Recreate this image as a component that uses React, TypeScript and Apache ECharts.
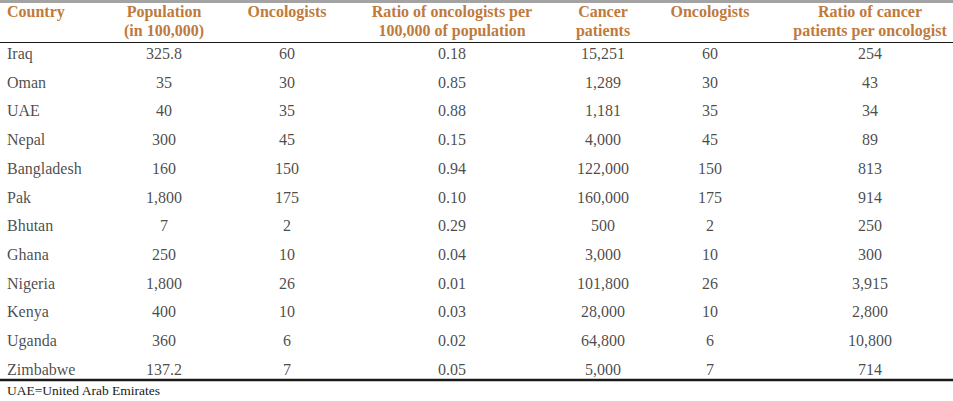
import React, { useEffect, useRef } from "react";
import * as echarts from "echarts";

// ---- data ----
const countries = ["Iraq", "Oman", "UAE", "Nepal", "Bangladesh", "Pak", "Bhutan", "Ghana", "Nigeria", "Kenya", "Uganda", "Zimbabwe"];
const population = [325.8, 35, 40, 300, 160, 1800, 7, 250, 1800, 400, 360, 137.2];
const oncologists = [60, 30, 35, 45, 150, 175, 2, 10, 26, 10, 6, 7];
const ratioPer100k = [0.18, 0.85, 0.88, 0.15, 0.94, 0.1, 0.29, 0.04, 0.01, 0.03, 0.02, 0.05];
const cancerPatients = [15251, 1289, 1181, 4000, 122000, 160000, 500, 3000, 101800, 28000, 64800, 5000];
const patientsPerOncologist = [254, 43, 34, 89, 813, 914, 250, 300, 3915, 2800, 10800, 714];
const headers = [
  "Country",
  "Population\n(in 100,000)",
  "Oncologists",
  "Ratio of oncologists per\n100,000 of population",
  "Cancer\npatients",
  "Oncologists",
  "Ratio of cancer\npatients per oncologist",
];
const footnote = "UAE=United Arab Emirates";

// ---- layout ----
const W = 953;
const H = 401;
const colX = [7, 164, 287, 452, 603, 710, 870];
const FONT = "'Liberation Serif', 'Times New Roman', serif";
const HEAD_COLOR = "#c07a3c";
const TEXT_COLOR = "#1a1a1a";

const fmtInt = (v: number) => v.toLocaleString("en-US", { maximumFractionDigits: 1 });
const fmt2 = (v: number) => v.toFixed(2);

export default function App() {
  const ref = useRef<HTMLDivElement>(null);
  useEffect(() => {
    if (!ref.current) return;
    const chart = echarts.init(ref.current, undefined, { renderer: "svg" });

    const columns: { values: (string | number)[]; fmt: (v: any) => string; align: string }[] = [
      { values: countries, fmt: (v: string) => v, align: "left" },
      { values: population, fmt: fmtInt, align: "center" },
      { values: oncologists, fmt: fmtInt, align: "center" },
      { values: ratioPer100k, fmt: fmt2, align: "center" },
      { values: cancerPatients, fmt: fmtInt, align: "center" },
      { values: oncologists, fmt: fmtInt, align: "center" },
      { values: patientsPerOncologist, fmt: fmtInt, align: "center" },
    ];

    const series = columns.map((col, ci) => ({
      type: "scatter",
      silent: true,
      symbolSize: 1,
      itemStyle: { color: "rgba(0,0,0,0)" },
      data: col.values.map((_, ri) => [colX[ci], ri]),
      label: {
        show: true,
        position: "inside",
        align: col.align,
        verticalAlign: "middle",
        fontFamily: FONT,
        fontSize: 16,
        color: TEXT_COLOR,
        formatter: (p: any) => col.fmt(col.values[p.dataIndex]),
      },
    }));

    const headerTexts = headers.map((h, i) => ({
      type: "text",
      x: colX[i],
      y: 2,
      silent: true,
      style: {
        text: h,
        fontFamily: FONT,
        fontSize: 16,
        fontWeight: "bold",
        fill: HEAD_COLOR,
        align: i === 0 ? "left" : "center",
        verticalAlign: "top",
        lineHeight: 19,
      },
    }));

    chart.setOption({
      animation: false,
      backgroundColor: "#ffffff",
      grid: { left: 0, right: 0, top: 39.2, height: 344.4, containLabel: false },
      xAxis: { type: "value", min: 0, max: W, show: false },
      yAxis: { type: "category", data: countries, inverse: true, show: false, boundaryGap: true },
      series,
      graphic: [
        { type: "rect", shape: { x: 0, y: 0, width: W, height: 3 }, style: { fill: "#a3a3a3" }, silent: true },
        { type: "line", shape: { x1: 0, y1: 42.5, x2: W, y2: 42.5 }, style: { stroke: "#1a1a1a", lineWidth: 1.2 }, silent: true },
        { type: "line", shape: { x1: 0, y1: 380, x2: W, y2: 380 }, style: { stroke: "#1a1a1a", lineWidth: 2.5 }, silent: true },
        ...headerTexts,
        {
          type: "text",
          x: 7,
          y: 390.5,
          silent: true,
          style: { text: footnote, fontFamily: FONT, fontSize: 13.5, fill: TEXT_COLOR, align: "left", verticalAlign: "middle" },
        },
      ],
    });
    return () => chart.dispose();
  }, []);
  return <div ref={ref} style={{ position: "absolute", left: 0, top: 0, width: W, height: H }} />;
}
